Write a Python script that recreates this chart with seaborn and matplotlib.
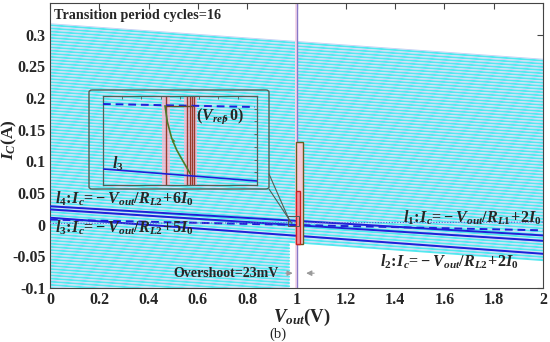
import numpy as np
import pandas as pd
import matplotlib
matplotlib.use("Agg")
import matplotlib.pyplot as plt
import seaborn as sns
from matplotlib.patches import Rectangle, FancyBboxPatch
from matplotlib.lines import Line2D

sns.set_theme(style="white")
plt.rcParams['font.family'] = ['Liberation Serif', 'DejaVu Serif']
plt.rcParams['mathtext.fontset'] = 'custom'
plt.rcParams['mathtext.rm'] = 'Liberation Serif:bold'
plt.rcParams['mathtext.it'] = 'Liberation Serif:italic:bold'
plt.rcParams['mathtext.bf'] = 'Liberation Serif:bold'

# ---------------- data ----------------
x_ticks = [0, 0.2, 0.4, 0.6, 0.8, 1.0, 1.2, 1.4, 1.6, 1.8, 2.0]
x_tick_labels = ["0", "0.2", "0.4", "0.6", "0.8", "1", "1.2", "1.4", "1.6", "1.8", "2"]
y_ticks = [-0.1, -0.05, 0, 0.05, 0.1, 0.15, 0.2, 0.25, 0.3]
y_tick_labels = ["-0.1", "-0.05", "0", "0.05", "0.1", "0.15", "0.2", "0.25", "0.3"]

# cyan load-line family (intercept at Vout=0), common slope
cyan_intercepts = [0.315, 0.310, 0.305, 0.300, 0.295, 0.290, 0.285, 0.280, 0.275, 0.270,
                   0.265, 0.260, 0.255, 0.250, 0.245, 0.240, 0.235, 0.230, 0.225, 0.220,
                   0.215, 0.210, 0.205, 0.200, 0.195, 0.190, 0.185, 0.180, 0.175, 0.170,
                   0.165, 0.160, 0.155, 0.150, 0.145, 0.140, 0.135, 0.130, 0.125, 0.120,
                   0.115, 0.110, 0.105, 0.100, 0.095, 0.090, 0.085, 0.080, 0.075, 0.070,
                   0.065, 0.060, 0.055, 0.050, 0.045, 0.040, 0.035, 0.030, 0.025, 0.020,
                   0.015, 0.010, 0.005, 0.000]
cyan_low_intercepts = [-0.005, -0.010, -0.015, -0.020, -0.025, -0.030, -0.035, -0.040,
                       -0.045, -0.050, -0.055, -0.060, -0.065, -0.070, -0.075, -0.080,
                       -0.085, -0.090, -0.095, -0.100]
cyan_slope = -0.028
cyan_x_end = 2.0
cyan_low_x_end = 0.97

# blue solid lines (value at Vout=0 and Vout=2)
blue_names = ["l4a", "l4b", "l3"]
blue_y0 = [0.029, 0.024, 0.011]
blue_y2 = [-0.017, -0.0255, -0.046]
# dashed l1 and dotted reference
l1_y = [0.008, -0.009]
dotted_y = [0.002, 0.004]
line_x = [0.0, 2.0]

# inset data (zoom around (Vref, 0))
ins_xlim = (0.975, 1.005)
ins_ylim = (-0.002, 0.012)
ins_dash_x = [0.975, 1.0046]
ins_dash_y = [0.01074, 0.01027]
ins_l3_x = [0.975, 1.005]
ins_l3_y = [0.00052, -0.00137]
ins_vlines = [0.98727, 0.99142, 0.99195, 0.99240, 0.99278]
ins_top_x = [0.98708, 0.99253]
ins_top_y = [0.01047, 0.01047]
curve_x = [0.98708, 0.98753, 0.98838, 0.98935, 0.99064, 0.99195]
curve_y = [0.01047, 0.00796, 0.00535, 0.00351, 0.00167, -0.00016]

# ---------------- figure ----------------
W, H = 550, 342
fig = plt.figure(figsize=(5.5, 3.42), dpi=100)
ax = fig.add_axes([50 / W, 1 - 288 / H, 493 / W, 285 / H])
ax.set_facecolor("white")

def fx(px):
    return px / W

def fy(py):
    return 1 - py / H

# cyan family
rows = []
for i, b in enumerate(cyan_intercepts):
    rows.append(("c%d" % i, 0.0, b))
    rows.append(("c%d" % i, cyan_x_end, b + cyan_slope * cyan_x_end))
for i, b in enumerate(cyan_low_intercepts):
    rows.append(("d%d" % i, 0.0, b))
    rows.append(("d%d" % i, cyan_low_x_end, b + cyan_slope * cyan_low_x_end))
cdf = pd.DataFrame(rows, columns=["line", "x", "y"])
sns.lineplot(data=cdf, x="x", y="y", units="line", estimator=None,
             color="#52e8ef", lw=1.4, ax=ax, zorder=1)
sns.lineplot(data=cdf.assign(y=cdf["y"] + 0.0023), x="x", y="y", units="line",
             estimator=None, color="#c2cdf3", lw=0.6, ax=ax, zorder=1)

# pink halo and purple vertical at Vref
ax.axvspan(0.993, 1.008, color="#f4d8ea", zorder=1.5, lw=0)
ax.axvline(1.0, color="#8878c8", lw=1.0, zorder=2)

# blue lines
brows = []
for n, a, b in zip(blue_names, blue_y0, blue_y2):
    brows.append((n, line_x[0], a))
    brows.append((n, line_x[1], b))
bdf = pd.DataFrame(brows, columns=["line", "x", "y"])
sns.lineplot(data=bdf, x="x", y="y", units="line", estimator=None,
             color="#1f1fd8", lw=1.4, ax=ax, zorder=3)
sns.lineplot(x=line_x, y=l1_y, color="#1f1fd8", lw=1.4, ax=ax, zorder=3,
             linestyle=(0, (4, 2.5)))
sns.lineplot(x=line_x, y=dotted_y, color="#5a5ad0", lw=0.8, ax=ax, zorder=3,
             linestyle=(0, (1, 1.5)))

# tall rectangles at overshoot
ax.add_patch(Rectangle((0.998, -0.03), 0.028, 0.161, facecolor="#f6c8d4",
                       edgecolor="#6b5a1e", lw=1.0, zorder=4))
ax.add_patch(Rectangle((0.999, -0.03), 0.016, 0.083, facecolor="#ef8f9e",
                       edgecolor="#d02020", lw=1.0, zorder=5))
# small zoom-source rectangle
ax.add_patch(Rectangle((0.965, -0.002), 0.047, 0.015, facecolor="none",
                       edgecolor="#555555", lw=0.7, zorder=6))

ax.set_xlim(0, 2)
ax.set_ylim(-0.1, 0.35)
ax.set_xticks(x_ticks)
ax.set_xticklabels(x_tick_labels)
ax.set_yticks(y_ticks)
ax.set_yticklabels(y_tick_labels)
ax.tick_params(direction="in", length=4, width=0.8, color="#444444",
               top=True, right=True, labelsize=11.5, pad=3)
for lab in ax.get_xticklabels() + ax.get_yticklabels():
    lab.set_fontweight("bold")
for s in ax.spines.values():
    s.set_color("#444444")
    s.set_linewidth(0.8)
ax.set_xlabel(r"$V_{out}$(V)", fontsize=13.5, fontweight="bold")
ax.xaxis.set_label_coords(0.511, -0.066)
ax.set_ylabel(r"$I_C$(A)", fontsize=12.5, fontweight="bold")
ax.yaxis.set_label_coords(-0.062, 0.52)

# texts
ax.text(0.016, 0.331, "Transition period cycles=16", fontsize=10.2,
        fontweight="bold", ha="left", va="center", zorder=8)
ax.text(0.02, 0.041, r"$l_4\!:\!I_c\!=\!-V_{out}/R_{L2}\!+\!6I_0$", fontsize=11.6,
        ha="left", va="center", zorder=8)
ax.text(0.02, -0.0047, r"$l_3\!:\!I_c\!=\!-V_{out}/R_{L2}\!+\!5I_0$", fontsize=11.6,
        ha="left", va="center", zorder=8)
ax.text(1.995, 0.011, r"$l_1\!:\!I_c\!=\!-V_{out}/R_{L1}\!+\!2I_0$", fontsize=11.6,
        ha="right", va="center", zorder=8)
ax.text(1.339, -0.058, r"$l_2\!:\!I_c\!=\!-V_{out}/R_{L2}\!+\!2I_0$", fontsize=11.6,
        ha="left", va="center", zorder=8)
ax.text(0.929, -0.0766, "Overshoot=23mV", fontsize=10, fontweight="bold",
        ha="right", va="center", zorder=8)
ax.annotate("", xy=(0.996, -0.0766), xytext=(0.945, -0.0766),
            arrowprops=dict(arrowstyle="-|>", color="#9a9a9a", lw=0.8,
                            mutation_scale=8), zorder=8)
ax.annotate("", xy=(1.028, -0.0766), xytext=(1.083, -0.0766),
            arrowprops=dict(arrowstyle="-|>", color="#9a9a9a", lw=0.8,
                            mutation_scale=8), zorder=8)

fig.text(fx(278), fy(334), "(b)", fontsize=10.5, ha="center", va="center")

# inset outer box
fig.patches.append(FancyBboxPatch((fx(89), fy(189)), fx(180), 99 / H,
                                  boxstyle="round,pad=0,rounding_size=0.006",
                                  transform=fig.transFigure, facecolor="none",
                                  edgecolor="#4f6058", lw=1.0, zorder=9))
# connector lines
fig.lines.append(Line2D([fx(269), fx(290)], [fy(174), fy(221.7)],
                        transform=fig.transFigure, color="#4f6058", lw=0.8))
fig.lines.append(Line2D([fx(269), fx(291.7)], [fy(189), fy(223.3)],
                        transform=fig.transFigure, color="#4f6058", lw=0.8))

# inset axes
iax = fig.add_axes([fx(103), fy(185), 154 / W, 89 / H])
iax.patch.set_alpha(0)
for v, w in zip([0.98727, 0.99210], [0.0008, 0.0013]):
    iax.axvspan(v - w, v + w, color="#f6b9cf", alpha=0.8, lw=0, zorder=1)
for v in ins_vlines:
    iax.axvline(v, color="#9a3a2a", lw=1.0, zorder=2)
sns.lineplot(x=ins_dash_x, y=ins_dash_y, color="#1f1fd8", lw=1.4,
             linestyle=(0, (4, 2.5)), ax=iax, zorder=3)
sns.lineplot(x=ins_l3_x, y=ins_l3_y, color="#1f1fd8", lw=1.2, ax=iax, zorder=3)
sns.lineplot(x=ins_top_x, y=ins_top_y, color="#6a4a28", lw=1.0, ax=iax, zorder=3)
sns.lineplot(x=curve_x, y=curve_y, color="#4d7a2a", lw=1.2, ax=iax, zorder=4,
             sort=False)
iax.annotate("", xy=(curve_x[2] - 0.00005, curve_y[2] + 0.0004),
             xytext=(curve_x[3], curve_y[3]),
             arrowprops=dict(arrowstyle="-|>", color="#4d7a2a", lw=0,
                             mutation_scale=7), zorder=5)
iax.text(0.99779, 0.00885, r"$(V_{ref}\!,0)$", fontsize=11.5, ha="center",
         va="center", zorder=6)
iax.text(0.97675, 0.0013, r"$l_3$", fontsize=11.5, ha="left", va="center")
iax.set_xlim(*ins_xlim)
iax.set_ylim(*ins_ylim)
iax.set_xticks(np.linspace(ins_xlim[0], ins_xlim[1], 9)[1:-1])
iax.set_yticks(np.linspace(ins_ylim[0], ins_ylim[1], 8)[1:-1])
iax.set_xticklabels([])
iax.set_yticklabels([])
iax.set_xlabel("")
iax.set_ylabel("")
iax.tick_params(direction="in", length=2, width=0.6, color="#4f6058",
                top=True, right=True)
for s in iax.spines.values():
    s.set_color("#4f6058")
    s.set_linewidth(0.9)

fig.savefig("out.png", dpi=100)
